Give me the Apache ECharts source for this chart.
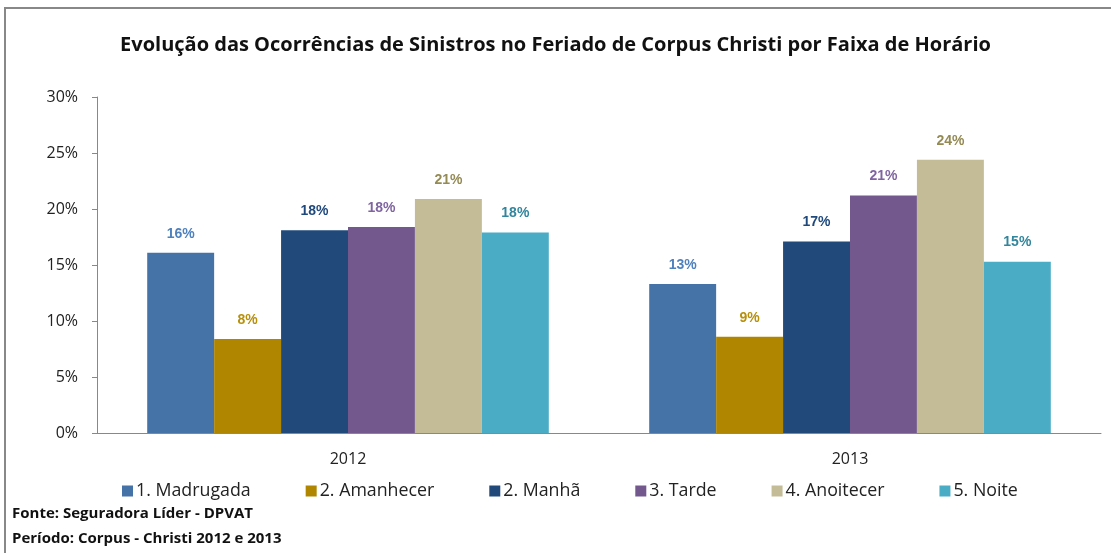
<!DOCTYPE html>
<html>
<head>
<meta charset="utf-8">
<script src="https://cdn.jsdelivr.net/npm/echarts@6/dist/echarts.min.js"></script>
<style>
  html, body { margin: 0; padding: 0; background: #fff; }
  #chart { width: 1111px; height: 553px; }
</style>
</head>
<body>
<div id="chart"></div>
<script>
// dados
const anos = ['2012', '2013'];
const faixas = ['1. Madrugada', '2. Amanhecer', '2. Manhã', '3. Tarde', '4. Anoitecer', '5. Noite'];
const madrugada = [16.1, 13.3];
const amanhecer = [8.4, 8.6];
const manha = [18.1, 17.1];
const tarde = [18.4, 21.2];
const anoitecer = [20.9, 24.4];
const noite = [17.9, 15.3];
const ticksY = [0, 5, 10, 15, 20, 25, 30];

const valores = [madrugada, amanhecer, manha, tarde, anoitecer, noite];
const coresBarra = ['#4673a7', '#b08600', '#214a7b', '#72588c', '#c4bc96', '#4bacc6'];
const coresRotulo = ['#4f81bd', '#b8900a', '#1f497d', '#8064a2', '#948a54', '#31859c'];

const chart = echarts.init(document.getElementById('chart'), null, { renderer: 'canvas' });

const option = {
  backgroundColor: '#fff',
  animation: false,
  title: {
    text: 'Evolução das Ocorrências de Sinistros no Feriado de Corpus Christi por Faixa de Horário',
    left: 'center',
    top: 30,
    textStyle: {
      fontFamily: 'Open Sans',
      fontWeight: 'bold',
      fontSize: 20,
      color: '#111'
    }
  },
  legend: {
    data: faixas,
    top: 477,
    left: 117,
    itemWidth: 11,
    itemHeight: 11,
    itemGap: 55,
    icon: 'rect',
    textStyle: {
      fontFamily: 'Open Sans',
      fontSize: 17.8,
      color: '#222',
      padding: [0, 0, 0, -2]
    }
  },
  grid: {
    left: 97,
    right: 10,
    top: 97,
    bottom: 120
  },
  xAxis: {
    type: 'category',
    data: anos,
    axisLine: { lineStyle: { color: '#888', width: 1 } },
    axisTick: { show: false },
    axisLabel: {
      fontFamily: 'Open Sans',
      fontSize: 16,
      color: '#222',
      margin: 18
    }
  },
  yAxis: {
    type: 'value',
    min: 0,
    max: 30,
    interval: 5,
    axisLine: { show: true, lineStyle: { color: '#888', width: 1 } },
    axisTick: { show: true, length: 5, lineStyle: { color: '#888' } },
    splitLine: { show: false },
    axisLabel: {
      fontFamily: 'Open Sans',
      fontSize: 16,
      color: '#222',
      margin: 19,
      formatter: function(v) {
        return ticksY.indexOf(v) >= 0 ? v + '%' : '';
      }
    }
  },
  series: faixas.map((nome, i) => ({
    name: nome,
    type: 'bar',
    data: valores[i],
    barGap: '0%',
    barCategoryGap: '20%',
    itemStyle: { color: coresBarra[i] },
    label: {
      show: true,
      position: 'top',
      distance: 12,
      fontFamily: 'Liberation Sans',
      fontWeight: 'bold',
      fontSize: 14,
      color: coresRotulo[i],
      formatter: function(p) {
        return Math.round(p.value) + '%';
      }
    }
  })),
  graphic: [
    {
      type: 'polyline',
      shape: { points: [[5, 553], [5, 8], [1111, 8]] },
      style: { stroke: '#888', lineWidth: 2, fill: null }
    },
    {
      type: 'text',
      left: 12,
      top: 506,
      style: {
        text: 'Fonte: Seguradora Líder - DPVAT',
        font: 'bold 15px "Open Sans"',
        fill: '#111'
      }
    },
    {
      type: 'text',
      left: 12,
      top: 531,
      style: {
        text: 'Período: Corpus - Christi 2012 e 2013',
        font: 'bold 15px "Open Sans"',
        fill: '#111'
      }
    }
  ]
};

chart.setOption(option);

window.addEventListener('resize', function() {
  chart.resize();
});
</script>
</body>
</html>
